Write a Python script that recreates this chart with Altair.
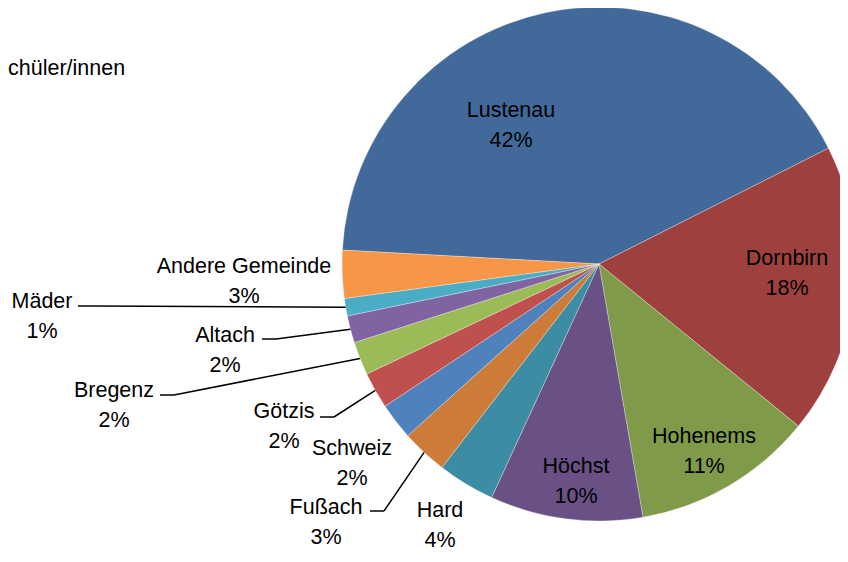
import math
import altair as alt
import pandas as pd

# ---- data ----
names = ["Lustenau", "Dornbirn", "Hohenems", "Höchst", "Hard", "Fußach",
         "Schweiz", "Götzis", "Bregenz", "Altach", "Mäder", "Andere Gemeinde"]
values = [41.7, 18.3, 11.4, 9.6, 3.6, 2.9, 2.3, 2.3, 2.1, 1.7, 1.1, 3.0]
colors = ["#416A9B", "#9E413E", "#7F9A48", "#695185", "#3C8DA3", "#CC7B38",
          "#4F81BD", "#C0504D", "#9BBB59", "#8064A2", "#4BACC6", "#F79646"]
title_text = "chüler/innen"

# ---- layout (page pixel coordinates of label anchors) ----
label_x = [511, 787, 704, 576, 440, 326, 352, 284, 114, 225, 42, 244]
label_y = [117, 265, 443, 473, 517, 514, 455, 418, 397, 342, 308, 273]
tick_x = [None, None, None, None, None, 370, None, 320, 160, 262, 78, None]
tick_y = [None, None, None, None, None, 511, None, 417, 395, 339, 306, None]

OFF = 8
W, H = 832, 546
CX, CY, R = 599 - OFF, 264 - OFF, 257
START = math.radians(273.1)
FONT = "Liberation Sans"
FS = 21.5

df = pd.DataFrame({
    "name": names,
    "v": values,
    "order": list(range(len(names))),
    "lx": [x - OFF for x in label_x],
    "ly": [y - OFF for y in label_y],
    "tx": [None if x is None else x - OFF for x in tick_x],
    "ty": [None if y is None else y - OFF for y in tick_y],
})

base = (
    alt.Chart(df)
    .transform_joinaggregate(total="sum(v)")
    .transform_window(cum="sum(v)", sort=[alt.SortField("order")], frame=[None, 0])
    .transform_calculate(
        mid=f"{START} + 2*PI*(datum.cum - datum.v/2)/datum.total",
    )
    .transform_calculate(
        ex=f"{CX} + {R}*sin(datum.mid)",
        ey=f"{CY} - {R}*cos(datum.mid)",
        lab="[datum.name, format(datum.v/datum.total, '.0%')]",
        tx2="datum.tx + 14",
    )
)

arcs = alt.Chart(df).mark_arc(outerRadius=R, stroke="#ffffff", strokeWidth=0.5, strokeOpacity=0.6).encode(
    theta=alt.Theta("v:Q", stack=True, scale=alt.Scale(range=[START, START + 2 * math.pi])),
    color=alt.Color("name:N", scale=alt.Scale(domain=names, range=colors), legend=None),
    order=alt.Order("order:Q"),
    x=alt.value(CX),
    y=alt.value(CY),
)

labels = base.mark_text(
    font=FONT, fontSize=FS, lineHeight=30, align="center", baseline="alphabetic", color="#000000"
).encode(
    x=alt.X("lx:Q", scale=None),
    y=alt.Y("ly:Q", scale=None),
    text="lab:N",
)

leaders = base.transform_filter("isValid(datum.tx)")
ticks = leaders.mark_rule(color="#000000", strokeWidth=1.5).encode(
    x=alt.X("tx:Q", scale=None), x2="tx2:Q",
    y=alt.Y("ty:Q", scale=None), y2="ty:Q",
)
slants = leaders.mark_rule(color="#000000", strokeWidth=1.5).encode(
    x=alt.X("tx2:Q", scale=None), x2="ex:Q",
    y=alt.Y("ty:Q", scale=None), y2="ey:Q",
)

title = alt.Chart(pd.DataFrame({"t": [title_text]})).mark_text(
    font=FONT, fontSize=FS, align="left", baseline="alphabetic", color="#000000"
).encode(x=alt.value(0), y=alt.value(75 - OFF), text="t:N")

chart = (
    alt.layer(arcs, ticks, slants, labels, title)
    .properties(width=W, height=H, autosize="none", padding=0)
    .configure_view(stroke=None)
)

chart.save("out.html", embed_options={"renderer": "svg", "actions": False})
